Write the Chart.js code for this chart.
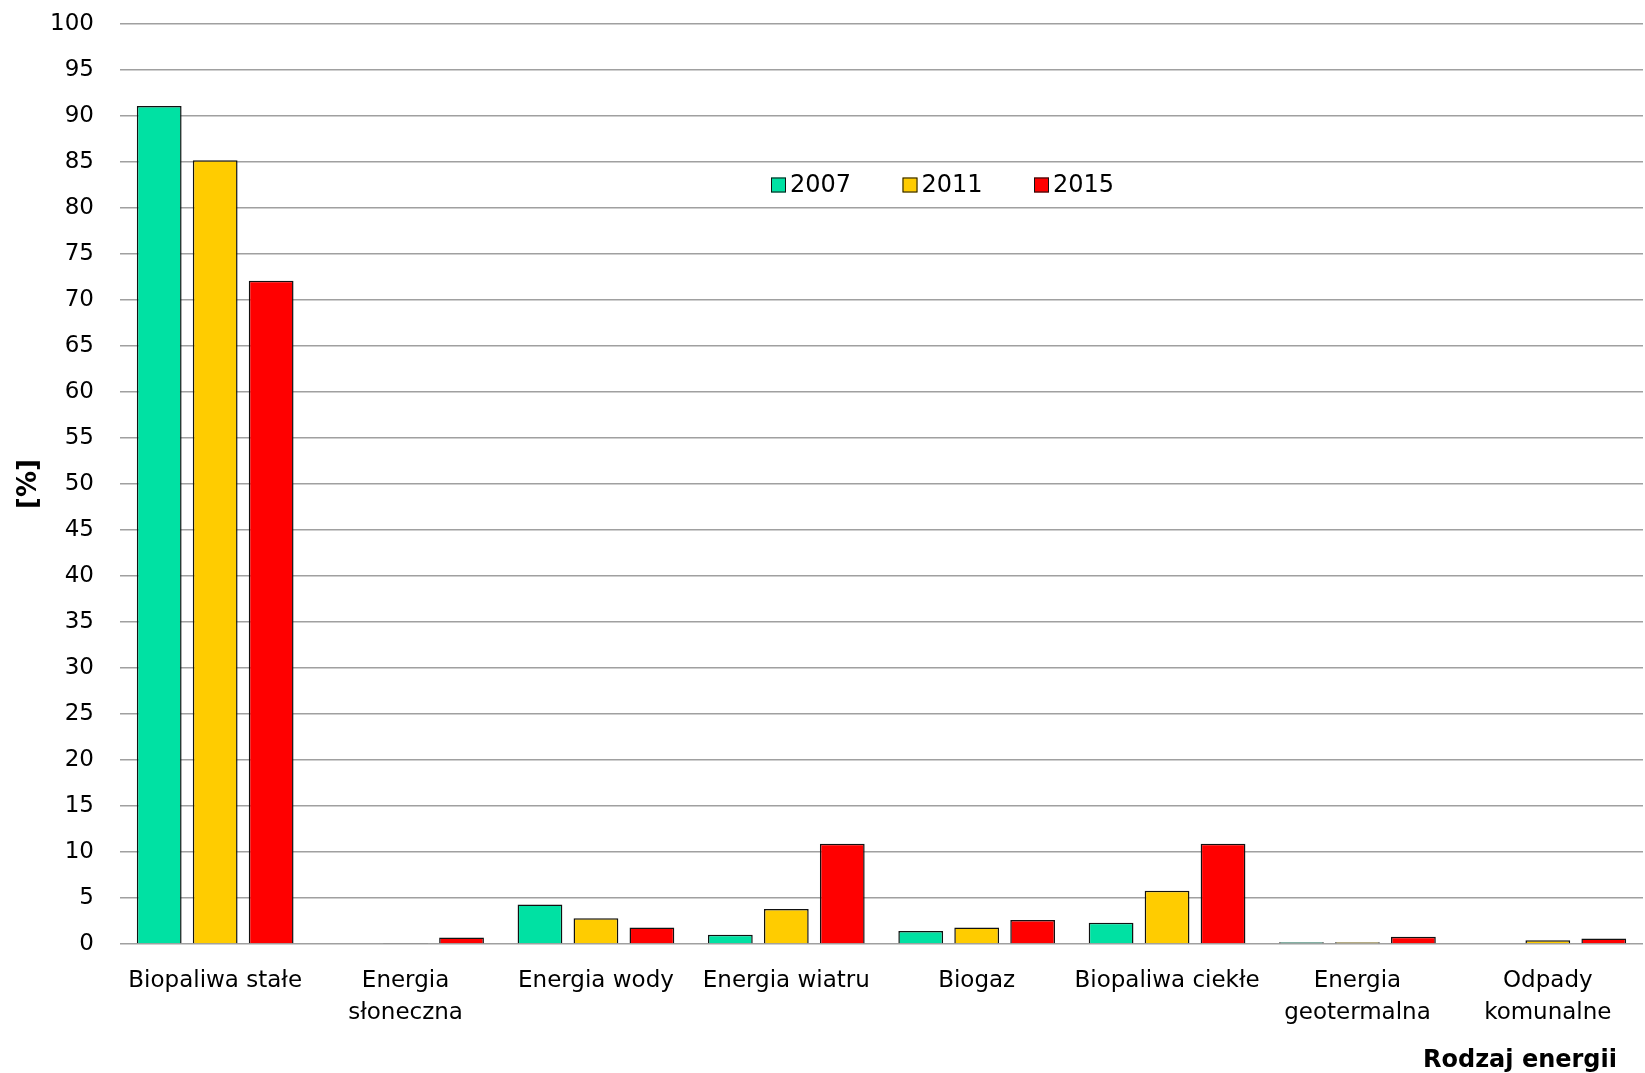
<!DOCTYPE html>
<html lang="pl">
<head>
<meta charset="utf-8">
<title>Udział nośników energii odnawialnej</title>
<script src="https://cdn.jsdelivr.net/npm/chart.js@4"></script>
<style>
  html, body { margin: 0; padding: 0; background: #fff; }
  canvas { display: block; }
</style>
</head>
<body>
<canvas id="chart" width="1645" height="1073"></canvas>
<script>
// --- Data ---
const categories = [
  'Biopaliwa stałe',
  ['Energia', 'słoneczna'],
  'Energia wody',
  'Energia wiatru',
  'Biogaz',
  'Biopaliwa ciekłe',
  ['Energia', 'geotermalna'],
  ['Odpady', 'komunalne']
];
const years = ['2007', '2011', '2015'];
const share2007 = [91.1, 0, 4.3, 1.0, 1.4, 2.3, 0.2, 0];
const share2011 = [85.2, 0.1, 2.8, 3.8, 1.8, 5.8, 0.2, 0.4];
const share2015 = [72.1, 0.7, 1.8, 10.9, 2.6, 10.9, 0.8, 0.6];
const yTicks = [0, 5, 10, 15, 20, 25, 30, 35, 40, 45, 50, 55, 60, 65, 70, 75, 80, 85, 90, 95, 100];

// --- Styling ---
const COLORS = ['#00e1a3', '#ffcc00', '#ff0000'];
const GRID = '#a0a0a0';
const TEXT = '#000';
const EDGE = '#111';
const FONT = "'DejaVu Sans', sans-serif";

const makeSet = (label, data, i) => ({
  label,
  data,
  backgroundColor: COLORS[i],
  borderColor: EDGE,
  // zero-valued bars are left out entirely
  borderWidth: ctx => (ctx.raw ? 1.5 : 0),
  borderSkipped: 'start',
  barPercentage: 0.8,
  categoryPercentage: 0.882
});

// Legend drawn inside the plot, near the top
const floatingLegend = {
  id: 'floatingLegend',
  afterDraw(chart) {
    const { ctx, chartArea } = chart;
    const x0 = chartArea.left + 651;
    const yc = chartArea.top + 161;
    const pitch = 131.5;
    ctx.save();
    ctx.font = `24px ${FONT}`;
    ctx.textBaseline = 'middle';
    ctx.textAlign = 'left';
    chart.data.datasets.forEach((ds, i) => {
      const x = x0 + i * pitch;
      ctx.fillStyle = ds.backgroundColor;
      ctx.fillRect(x, yc - 7.5, 15, 15);
      ctx.strokeStyle = EDGE;
      ctx.lineWidth = 1;
      ctx.strokeRect(x + 0.5, yc - 7, 14, 14);
      ctx.fillStyle = TEXT;
      ctx.fillText(ds.label, x + 19, yc + 1);
    });
    ctx.restore();
  }
};

// Axis title in the bottom-right corner
const xAxisTitle = {
  id: 'xAxisTitle',
  afterDraw(chart) {
    const { ctx, chartArea } = chart;
    ctx.save();
    ctx.font = `bold 24px ${FONT}`;
    ctx.fillStyle = TEXT;
    ctx.textAlign = 'right';
    ctx.textBaseline = 'middle';
    ctx.fillText('Rodzaj energii', chartArea.right - 26, chartArea.bottom + 117);
    ctx.restore();
  }
};

new Chart(document.getElementById('chart'), {
  type: 'bar',
  data: {
    labels: categories,
    datasets: [
      makeSet(years[0], share2007, 0),
      makeSet(years[1], share2011, 1),
      makeSet(years[2], share2015, 2)
    ]
  },
  options: {
    responsive: false,
    animation: false,
    devicePixelRatio: 1,
    layout: { padding: { top: 24, right: 2, bottom: 0, left: 0 } },
    plugins: {
      legend: { display: false },
      tooltip: { enabled: false }
    },
    scales: {
      x: {
        grid: { display: false, drawTicks: false },
        border: { display: false },
        ticks: {
          color: TEXT,
          font: { family: FONT, size: 23, lineHeight: 1.38 },
          padding: 21,
          maxRotation: 0,
          autoSkip: false
        },
        afterFit: scale => { scale.height = 129; }
      },
      y: {
        min: 0,
        max: 100,
        afterBuildTicks: scale => { scale.ticks = yTicks.map(v => ({ value: v })); },
        grid: { color: GRID, lineWidth: 1.5, drawTicks: false },
        border: { display: false },
        ticks: {
          color: TEXT,
          font: { family: FONT, size: 23 },
          padding: 26
        },
        title: {
          display: true,
          text: '[%]',
          color: TEXT,
          font: { family: FONT, size: 26, weight: 'bold' },
          padding: { top: 14, bottom: 0 }
        },
        afterFit: scale => {
          scale.width = 120;
          // tick padding is horizontal here, so keep only half a label above the top line
          scale.paddingTop = 14;
          scale.paddingBottom = 14;
        }
      }
    }
  },
  plugins: [floatingLegend, xAxisTitle]
});
</script>
</body>
</html>
